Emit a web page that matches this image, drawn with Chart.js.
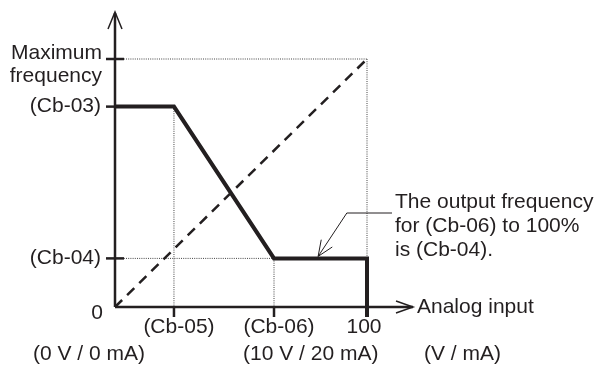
<!DOCTYPE html>
<html>
<head>
<meta charset="utf-8">
<style>
  html, body { margin: 0; padding: 0; background: #fff; }
  #wrap { width: 598px; height: 367px; position: relative; }
</style>
</head>
<body>
<div id="wrap">
  <canvas id="myChart"></canvas>
</div>

<script src="https://cdn.jsdelivr.net/npm/chart.js"></script>

<script>
  // parameter levels, in % of full scale
  const cb03 = 80.8;   // output at low end
  const cb04 = 19.6;   // output at high end
  const cb05 = 23.4;   // start of analog input span
  const cb06 = 63.1;   // end of analog input span
  const maxFreq = 100;

  // output frequency vs analog input (thick line)
  const inputPct = [0, cb05, cb06, 100, 100];
  const outputPct = [cb03, cb03, cb04, cb04, 0];

  // straight reference line (dashed)
  const refInput = [0, 100];
  const refOutput = [0, maxFreq];

  const yTickValues = [cb03, cb04];
  const yTickLabels = ['(Cb-03)', '(Cb-04)'];
  const xTickValues = [cb05, cb06, 100];
  const xTickLabels = ['(Cb-05)', '(Cb-06)', '100'];
  const unitLabels = ['(0 V / 0 mA)', '(10 V / 20 mA)', '(V / mA)'];
  const noteLines = ['The output frequency', 'for (Cb-06) to 100%', 'is (Cb-04).'];

  const ink = '#231f20';
  const font = '21px "Liberation Sans", Arial, sans-serif';

  const toPoints = (xs, ys) => xs.map((x, i) => ({ x: x, y: ys[i] }));

  // thin dotted guide lines
  const guides = [
    [[0, maxFreq], [100, maxFreq]],
    [[100, maxFreq], [100, 0]],
    [[cb05, cb03], [cb05, 0]],
    [[cb06, cb04], [cb06, 0]],
    [[0, cb04], [cb06, cb04]]
  ];

  const guideSets = guides.map(g => ({
    data: g.map(p => ({ x: p[0], y: p[1] })),
    showLine: true,
    borderColor: '#444',
    borderWidth: 1,
    borderDash: [1, 1.2],
    pointRadius: 0,
    clip: false,
    order: 3
  }));

  function line(ctx, pts) {
    ctx.beginPath();
    ctx.moveTo(pts[0][0], pts[0][1]);
    for (let i = 1; i < pts.length; i++) ctx.lineTo(pts[i][0], pts[i][1]);
    ctx.stroke();
  }

  const axesAndText = {
    id: 'axesAndText',
    afterDatasetsDraw(chart) {
      const ctx = chart.ctx;
      const xs = chart.scales.x, ys = chart.scales.y;
      const px = v => xs.getPixelForValue(v);
      const py = v => ys.getPixelForValue(v);
      const x0 = px(0), y0 = py(0);

      ctx.save();
      ctx.strokeStyle = ink;
      ctx.fillStyle = ink;
      ctx.lineCap = 'butt';
      ctx.setLineDash([]);

      // axes with open arrowheads
      ctx.lineWidth = 2.5;
      line(ctx, [[x0, y0], [x0, 13]]);
      line(ctx, [[x0, y0], [px(100) + 46, y0]]);
      ctx.lineWidth = 1.5;
      line(ctx, [[x0 - 7, 29], [x0, 12], [x0 + 7, 29]]);
      const ax = px(100) + 46;
      line(ctx, [[ax - 17, y0 - 6], [ax, y0], [ax - 17, y0 + 6]]);

      // ticks
      ctx.lineWidth = 2.5;
      [maxFreq, cb03, cb04].forEach(v => line(ctx, [[x0 - 9, py(v)], [x0 + 9, py(v)]]));
      xTickValues.forEach((v, i) => {
        ctx.lineWidth = i === 2 ? 4 : 2.5;
        line(ctx, [[px(v), y0], [px(v), y0 + 10]]);
      });

      // text
      ctx.font = font;
      ctx.textBaseline = 'middle';
      ctx.textAlign = 'right';
      ctx.fillText('Maximum', x0 - 13, py(maxFreq) - 6);
      ctx.fillText('frequency', x0 - 13, py(maxFreq) + 17);
      yTickValues.forEach((v, i) => ctx.fillText(yTickLabels[i], x0 - 14, py(v)));
      ctx.fillText('0', x0 - 12, y0 + 6);

      ctx.textAlign = 'center';
      xTickValues.forEach((v, i) => ctx.fillText(xTickLabels[i], px(v) + (i === 2 ? -3 : 5), y0 + 20));

      ctx.textAlign = 'left';
      ctx.fillText(unitLabels[0], x0 - 82, y0 + 47);
      ctx.fillText(unitLabels[1], px(cb06) - 31, y0 + 47);
      ctx.fillText(unitLabels[2], px(100) + 57, y0 + 47);
      ctx.fillText('Analog input', ax + 4, y0);

      // note with leader arrow onto the flat high-end segment
      noteLines.forEach((t, i) => ctx.fillText(t, px(100) + 28, py(cb04) - 56 + i * 24));
      ctx.lineWidth = 1;
      const tip = [px(80.6), py(cb04) - 2];
      const elbow = [px(92), py(37.9)];
      line(ctx, [[px(100) + 25, elbow[1]], elbow, tip]);
      const ang = Math.atan2(elbow[1] - tip[1], elbow[0] - tip[0]);
      const len = 17, spread = 0.4;
      line(ctx, [
        [tip[0] + len * Math.cos(ang - spread), tip[1] + len * Math.sin(ang - spread)],
        tip,
        [tip[0] + len * Math.cos(ang + spread), tip[1] + len * Math.sin(ang + spread)]
      ]);
      ctx.restore();
    }
  };

  const ctx = document.getElementById('myChart');
  new Chart(ctx, {
    type: 'scatter',
    data: {
      datasets: [
        {
          data: toPoints(inputPct, outputPct),
          showLine: true,
          borderColor: ink,
          borderWidth: 4,
          borderJoinStyle: 'miter',
          pointRadius: 0,
          clip: false,
          order: 1
        },
        {
          data: toPoints(refInput, refOutput),
          showLine: true,
          borderColor: ink,
          borderWidth: 2.5,
          borderDash: [10, 7],
          pointRadius: 0,
          clip: false,
          order: 2
        },
        ...guideSets
      ]
    },
    options: {
      responsive: true,
      maintainAspectRatio: false,
      animation: false,
      layout: { padding: { left: 115, right: 231, top: 59, bottom: 60 } },
      scales: {
        x: { type: 'linear', min: 0, max: 100, display: false },
        y: { type: 'linear', min: 0, max: 100, display: false }
      },
      plugins: {
        legend: { display: false },
        tooltip: { enabled: false }
      }
    },
    plugins: [axesAndText]
  });
</script>
</body>
</html>
